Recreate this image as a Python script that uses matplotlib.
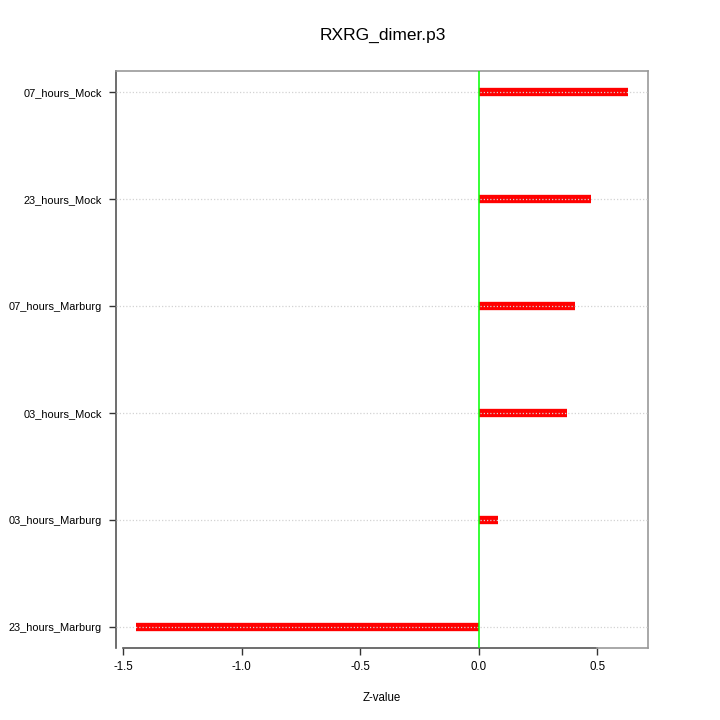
import matplotlib
matplotlib.use("Agg")
from matplotlib import pyplot as plt

# samples, bottom to top
labels = ["23_hours_Marburg", "03_hours_Marburg", "03_hours_Mock",
          "07_hours_Marburg", "23_hours_Mock", "07_hours_Mock"]
zvals = [-1.446, 0.081, 0.370, 0.405, 0.471, 0.630]
xticks = [-1.5, -1.0, -0.5, 0.0, 0.5]

plt.rcParams['font.family'] = ['Liberation Sans', 'DejaVu Sans']

fig = plt.figure(figsize=(7.2, 7.2), dpi=100)
ax = fig.add_axes([116/720, 1 - 648/720, (648-116)/720, (648-71)/720])

ypos = list(range(1, len(labels) + 1))
ax.hlines(ypos, 0, zvals, colors='#ff0000', linewidth=6, capstyle='butt', zorder=2)
for y in ypos:
	ax.axhline(y, color='#d3d3d3', linestyle=(0, (1, 1.6)), linewidth=0.9, zorder=3)
ax.axvline(0, color='#00ff00', linewidth=1.1, zorder=4)

lo, hi = min(zvals), max(zvals)
pad = (hi - lo) * 0.04
ax.set_xlim(lo - pad, hi + pad)
ax.set_ylim(0.8, len(labels) + 0.2)

ax.set_yticks(ypos)
ax.set_yticklabels(labels, fontsize=7.9)
ax.set_xticks(xticks)
ax.set_xticklabels(["%.1f" % t for t in xticks], fontsize=8.3)
ax.tick_params(axis='y', length=5, width=1, color='#333333', pad=5)
ax.tick_params(axis='x', length=5, width=1, color='#333333', pad=4)

for s in ax.spines.values():
	s.set_color('#999999')
	s.set_linewidth(1.2)
# R-style axis lines over the box, spanning the tick range
ax.spines['left'].set_color('#555555')
ax.spines['bottom'].set_bounds(xticks[0], xticks[-1])
ax.spines['bottom'].set_color('#555555')
ax.plot([xticks[-1], hi + pad], [0.8, 0.8], color='#999999', lw=1.2, clip_on=False, zorder=5)

ax.set_xlabel("Z-value", fontsize=8.3, labelpad=14)
fig.text(0.531, 1 - 35/720, "RXRG_dimer.p3", ha='center', va='center', fontsize=12.5)

fig.savefig("out.png", dpi=100)
